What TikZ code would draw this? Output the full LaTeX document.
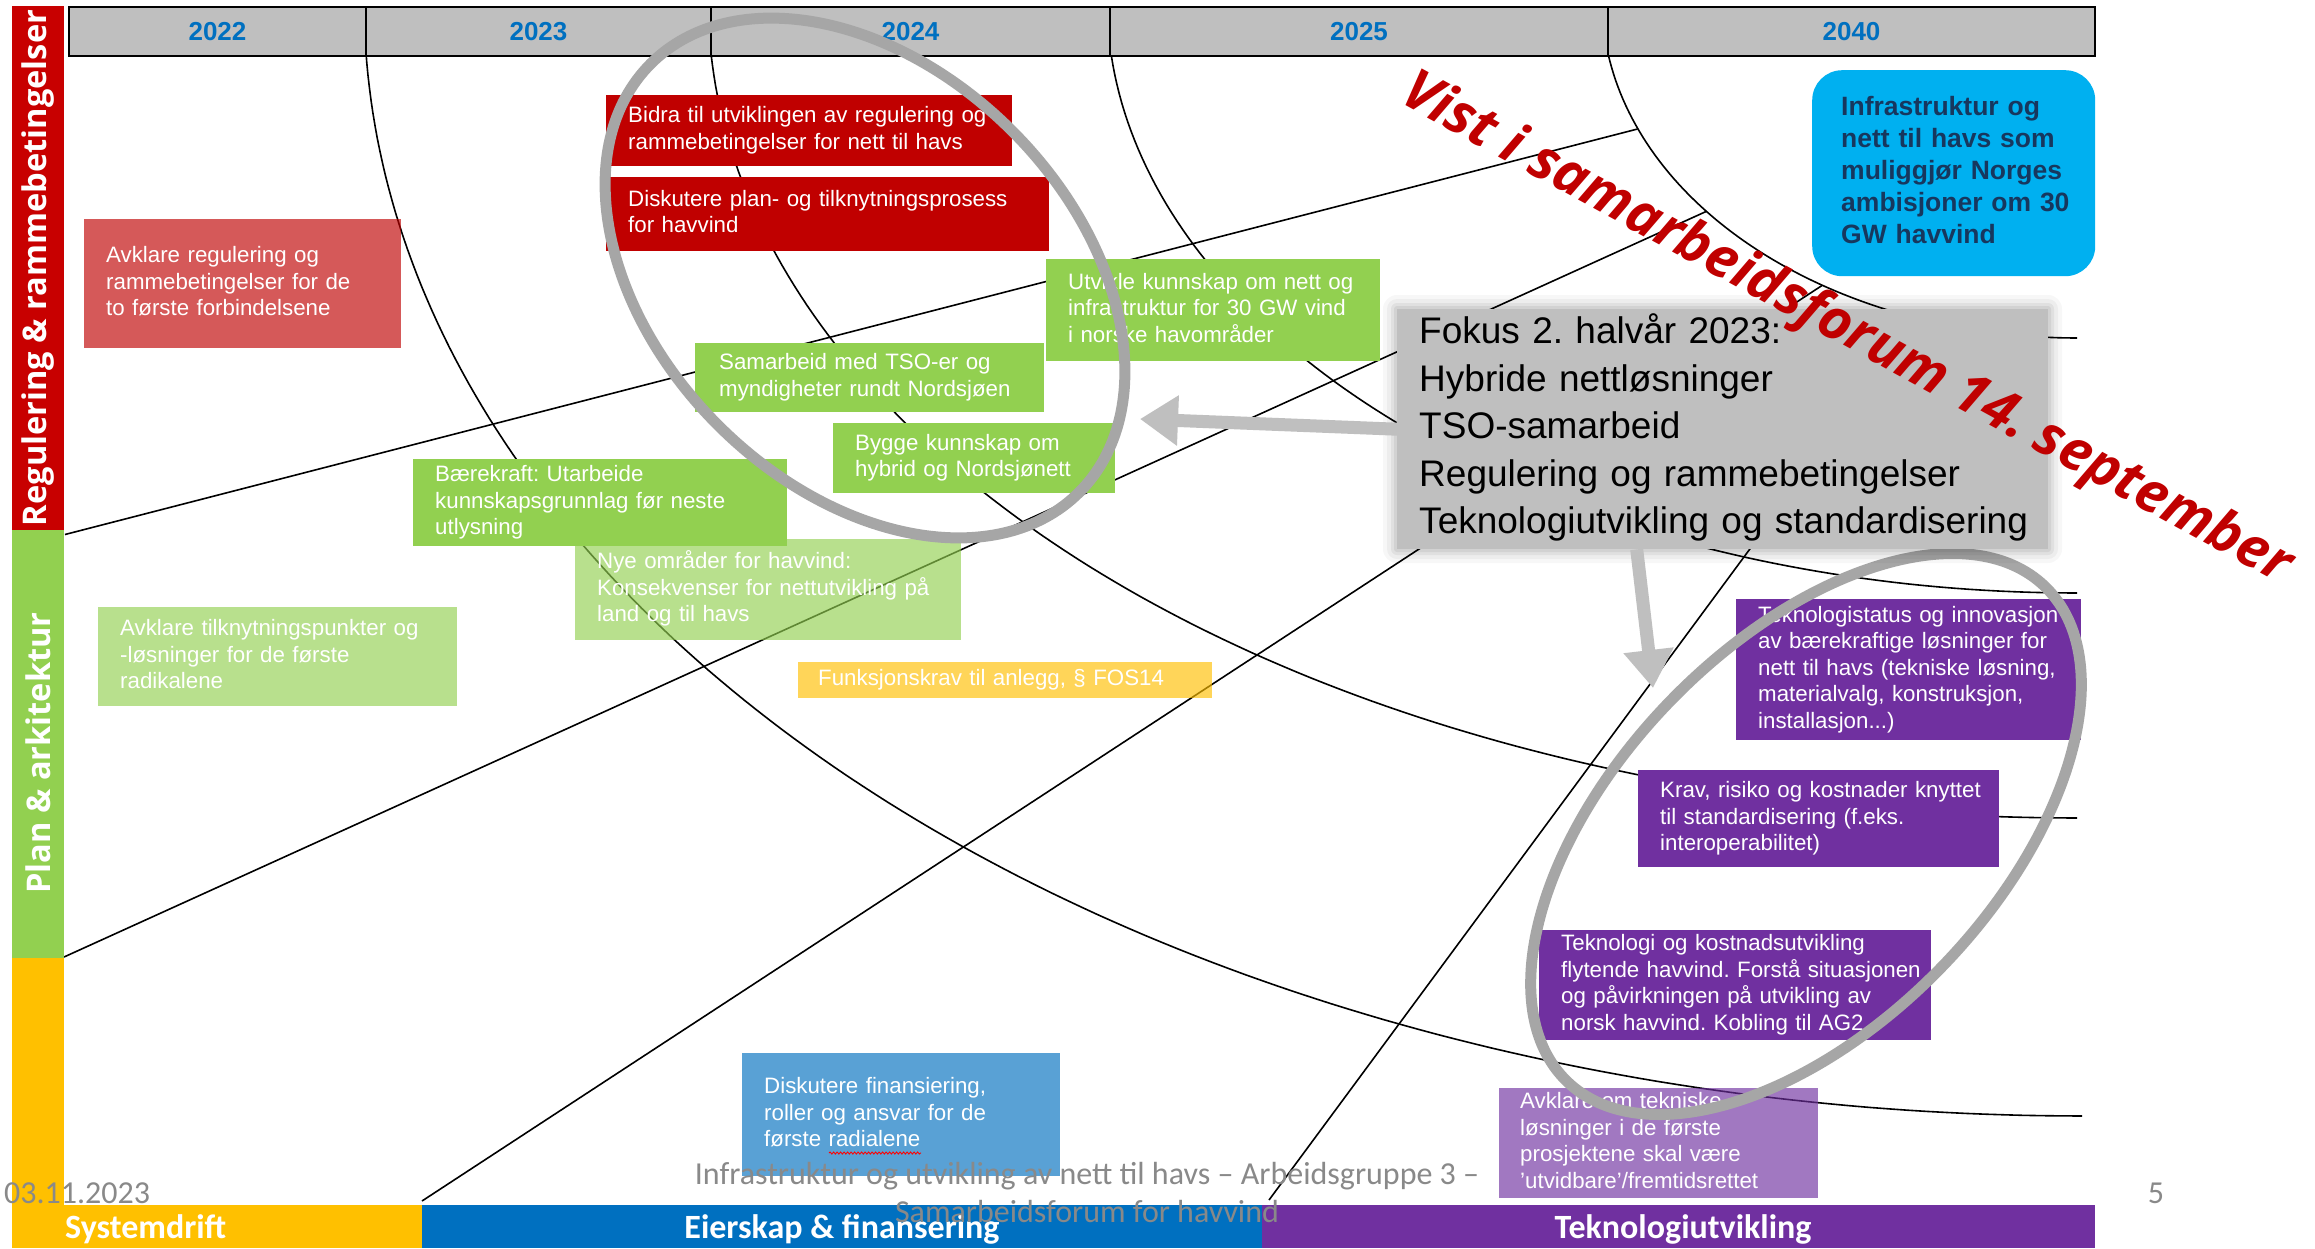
\documentclass[tikz,border=0pt]{standalone}
\usepackage{fontspec}
\setmainfont{Liberation Sans}
\newfontfamily\osans{Open Sans}
\newfontfamily\carl{Carlito}
\usetikzlibrary{arrows.meta,decorations.pathmorphing}
\definecolor{redA}{HTML}{C00000}
\definecolor{redBar}{HTML}{C80000}
\definecolor{greenA}{HTML}{92D050}
\definecolor{orangeA}{HTML}{FFC000}
\definecolor{blueA}{HTML}{0070C0}
\definecolor{purpleA}{HTML}{7030A0}
\definecolor{cyanA}{HTML}{00B0F0}
\definecolor{navyA}{HTML}{17375E}
\definecolor{grayHead}{HTML}{BFBFBF}
\definecolor{grayRing}{HTML}{A6A6A6}
\definecolor{grayFoot}{HTML}{898989}
\newcommand{\tbl}[1]{\begin{tabular}{@{}l@{}}#1\end{tabular}}
\newcommand{\tbc}[1]{\begin{tabular}[t]{@{}c@{}}#1\end{tabular}}
\frenchspacing
\begin{document}
\begin{tikzpicture}[x=1pt,y=-1pt,
  thinl/.style={draw=black, line width=1.6pt},
  box/.style={anchor=north west, inner xsep=22pt, inner ysep=0pt, align=left, text=white,
              font=\fontsize{22.3}{26.5}\selectfont},
  semi/.style={fill opacity=0.65, text opacity=1},
  ycell/.style={draw=black, line width=1.2pt, fill=grayHead, minimum height=49pt, inner sep=0pt,
                text=blueA, font=\bfseries\fontsize{26}{30}\selectfont},
  ring/.style={draw=grayRing, line width=11pt},
  garrow/.style={draw=grayHead, line width=13pt, -{Triangle[width=48pt,length=38pt]}},
  foot/.style={text=grayFoot, font=\carl\fontsize{32}{38}\selectfont, inner sep=0pt},
  barlab/.style={text=white, font=\carl\bfseries\fontsize{34}{40}\selectfont, inner sep=0pt},
  sidelab/.style={text=white, font=\osans\bfseries\fontsize{32.6}{40}\selectfont, rotate=90, inner sep=0pt},
]
\useasboundingbox[fill=white] (0,0) rectangle (2315,1248);

% ---------- grid lines (arcs and radial lines) ----------
\begin{scope}
\clip (64,56) rectangle (2315,1205);
\draw[thinl, domain=180:90, samples=140, variable=\t] plot ({2082+1718*cos(\t)}, {1116*sin(\t)});
\draw[thinl, domain=180:90, samples=120, variable=\t] plot ({2077+1369*cos(\t)}, {818*sin(\t)});
\draw[thinl, domain=180:90, samples=100, variable=\t] plot ({2077+970*cos(\t)}, {593*sin(\t)});
\draw[thinl, domain=180:90, samples=80, variable=\t] plot ({2077+475*cos(\t)}, {338*sin(\t)});
\coordinate (r1a) at (65,534.5);   \coordinate (r1b) at (1637.5,129);
\coordinate (r2a) at (64,957);     \coordinate (r2b) at (1706.5,211.3);
\coordinate (r3a) at (422,1201);   \coordinate (r3b) at (1822,285.5);
\coordinate (r4a) at (1269,1200);  \coordinate (r4b) at (1919,320);
\draw[thinl] (r1a) -- (r1b);
\draw[thinl] (r2a) -- (r2b);
\draw[thinl] (r3a) -- (r3b);
\draw[thinl] (r4a) -- (r4b);
\end{scope}

% ---------- header ----------
\node[ycell, minimum width=297pt] (y2022) at (217.5,31.5) {2022};
\node[ycell, minimum width=345pt] (y2023) at (538.5,31.5) {2023};
\node[ycell, minimum width=399pt] (y2024) at (910.5,31.5) {2024};
\node[ycell, minimum width=498pt] (y2025) at (1359,31.5) {2025};
\node[ycell, minimum width=487pt] (y2040) at (1851.5,31.5) {2040};

% ---------- side bars ----------
\fill[redBar] (12,6) rectangle (64,530);
\fill[greenA] (12,530) rectangle (64,958);
\fill[orangeA] (12,958) rectangle (64,1248);
\node[sidelab] (lreg) at (38,268) {Regulering \& rammebetingelser};
\node[sidelab] (lplan) at (38,753) {Plan \& arkitektur};

% ---------- bottom bars ----------
\fill[orangeA] (12,1205) rectangle (422,1248);
\fill[blueA] (422,1205) rectangle (1262,1248);
\fill[purpleA] (1262,1205) rectangle (2095,1248);
\node[barlab, anchor=base west] (bsys) at (65,1238) {Systemdrift};
\node[barlab, anchor=base] (beier) at (842,1238) {Eierskap \& finansering};
\node[barlab, anchor=base] (btek) at (1683,1238) {Teknologiutvikling};

% ---------- boxes ----------
\node[box, semi, fill=redA, minimum width=317pt, minimum height=129pt, text width=273pt] (avreg) at (84,219)
  {\tbl{Avklare regulering og\\rammebetingelser for de\\to første forbindelsene}};
\node[box, fill=redA, minimum width=406pt, minimum height=71pt, text width=362pt] (bidra) at (606,95)
  {\tbl{Bidra til utviklingen av regulering og\\rammebetingelser for nett til havs}};
\node[box, fill=redA, minimum width=443pt, minimum height=74pt, text width=399pt] (diskplan) at (606,177)
  {\tbl{Diskutere plan- og tilknytningsprosess\\for havvind}};
\node[box, fill=greenA, minimum width=345pt, minimum height=69pt, text width=301pt, inner xsep=24pt] (samarb) at (695,343)
  {\tbl{Samarbeid med TSO-er og\\myndigheter rundt Nordsjøen}};
\node[box, fill=greenA, minimum width=334pt, minimum height=102pt, text width=290pt] (utvikle) at (1046,259)
  {\tbl{Utvikle kunnskap om nett og\\infrastruktur for 30 GW vind\\i norske havområder}};
\node[box, fill=greenA, minimum width=282pt, minimum height=70pt, text width=238pt] (bygge) at (833,423)
  {\tbl{Bygge kunnskap om\\hybrid og Nordsjønett}};
\node[box, fill=greenA, minimum width=374pt, minimum height=87pt, text width=330pt] (baere) at (413,459)
  {\tbl{Bærekraft: Utarbeide\\kunnskapsgrunnlag før neste\\utlysning}};
\node[box, semi, fill=greenA, minimum width=386pt, minimum height=101pt, text width=342pt] (nye) at (575,539)
  {\tbl{Nye områder for havvind:\\Konsekvenser for nettutvikling på\\land og til havs}};
\node[box, semi, fill=greenA, minimum width=359pt, minimum height=99pt, text width=315pt] (avtilk) at (98,607)
  {\tbl{Avklare tilknytningspunkter og\\-løsninger for de første\\radikalene}};
\node[box, semi, fill=orangeA, minimum width=414pt, minimum height=36pt, text width=374pt, inner xsep=20pt] (funk) at (798,662)
  {\tbl{Funksjonskrav til anlegg, \S\ FOS14}};
\node[box, semi, fill=blueA, minimum width=318pt, minimum height=123pt, text width=274pt] (diskfin) at (742,1053)
  {\tbl{Diskutere finansiering,\\roller og ansvar for de\\første radialene}};
\draw[red, line width=0.9pt, decorate, decoration={snake, amplitude=1pt, segment length=3.5pt}] (829,1153) -- (921,1153);
\node[box, fill=purpleA, minimum width=345pt, minimum height=141pt, text width=301pt] (tekstat) at (1736,599)
  {\tbl{Teknologistatus og innovasjon\\av bærekraftige løsninger for\\nett til havs (tekniske løsning,\\materialvalg, konstruksjon,\\installasjon...)}};
\node[box, fill=purpleA, minimum width=361pt, minimum height=97pt, text width=317pt] (krav) at (1638,770)
  {\tbl{Krav, risiko og kostnader knyttet\\til standardisering (f.eks.\\interoperabilitet)}};
\node[box, fill=purpleA, minimum width=392pt, minimum height=110pt, text width=348pt] (tekkost) at (1539,930)
  {\tbl{Teknologi og kostnadsutvikling\\flytende havvind. Forstå situasjonen\\og påvirkningen på utvikling av\\norsk havvind. Kobling til AG2.}};
\node[box, semi, fill=purpleA, minimum width=319pt, minimum height=110pt, text width=277pt, inner xsep=21pt] (avom) at (1499,1088)
  {\tbl{Avklare om tekniske\\løsninger i de første\\prosjektene skal være\\'utvidbare'/fremtidsrettet}};
\node[box, fill=cyanA, rounded corners=30pt, minimum width=283pt, minimum height=206pt, text width=225pt, inner xsep=29pt,
      text=navyA, font=\bfseries\fontsize{26.5}{32}\selectfont] (goal) at (1812,70)
  {\tbl{Infrastruktur og\\nett til havs som\\muliggjør Norges\\ambisjoner om 30\\GW havvind}};

% ---------- highlight rings ----------
\draw[ring, rotate around={-45:(865,278)}] (865,278) ellipse [x radius=303, y radius=208];
\draw[ring, rotate around={46:(1806,834)}] (1806,834) ellipse [x radius=344, y radius=190];

% ---------- focus box ----------
\foreach \s/\o in {14/0.03,10/0.04,6/0.05,3/0.06}{
  \fill[black, opacity=\o, rounded corners=\s pt] (1397-\s,309-\s) rectangle (2048+\s,549+\s);}
\node[anchor=north west, fill=grayHead, minimum width=651pt, minimum height=240pt, text width=607pt,
      inner xsep=22pt, inner ysep=0pt, align=left, font=\fontsize{37}{47.5}\selectfont] (fokus) at (1397,309)
  {\raisebox{-4pt}{\tbl{Fokus 2. halvår 2023:\\Hybride nettløsninger\\TSO-samarbeid\\Regulering og rammebetingelser\\Teknologiutvikling og standardisering}}};
\coordinate (a1tip) at (1140,419);
\coordinate (a2tip) at (1653,688);
\draw[garrow] (fokus.west) -- (a1tip);
\draw[garrow] ([xshift=-86pt]fokus.south) -- (a2tip);

% ---------- stamp ----------
\node[rotate=-28.7, text=redA, inner sep=0pt, font=\osans\bfseries\itshape\fontsize{56}{62}\selectfont] (stamp) at (1846,330)
  {Vist i samarbeidsforum 14. september};

% ---------- footer ----------
\node[foot, anchor=base west] (date) at (4,1203) {03.11.2023};
\node[foot, anchor=base] (page) at (2156,1203) {5};
\node[foot, anchor=base] (ftitle) at (1087,1184)
  {\tbc{Infrastruktur og utvikling av nett til havs – Arbeidsgruppe 3 –\\Samarbeidsforum for havvind}};
\end{tikzpicture}
\end{document}
